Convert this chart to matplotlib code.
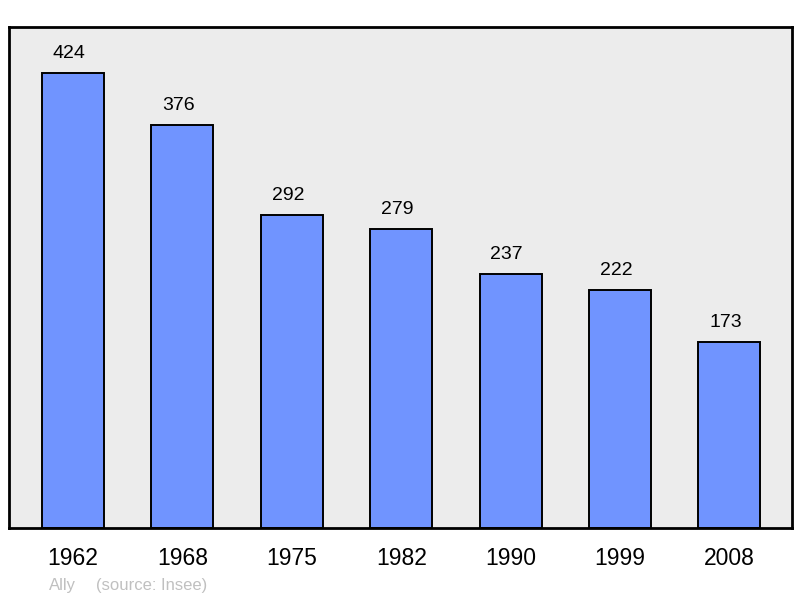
import matplotlib.pyplot as plt

plt.rcParams['font.family'] = ['Liberation Sans', 'DejaVu Sans']

years = ['1962', '1968', '1975', '1982', '1990', '1999', '2008']
population = [424, 376, 292, 279, 237, 222, 173]

fig = plt.figure(figsize=(8, 5.98), dpi=100)
# axes box in pixels: x 9..792, y 27..528
ax = fig.add_axes([9 / 800, 1 - 528 / 598, 783 / 800, 501 / 598])
ax.set_facecolor('#ececec')

x = list(range(len(years)))
ax.bar(x, population, width=0.567, color='#7094ff', edgecolor='black', linewidth=1.4, zorder=2)

for xi, v in zip(x, population):
    ax.annotate(str(v), (xi, v), xytext=(-4, 15), textcoords='offset pixels',
                ha='center', va='baseline', fontsize=14, color='black')

ax.set_xlim(-0.585, 6.572)
ax.set_ylim(0, 466.9)
ax.set_xticks(x)
ax.set_xticklabels(years, fontsize=16.5)
ax.tick_params(axis='x', length=0, pad=14)
ax.set_yticks([])
for s in ax.spines.values():
    s.set_linewidth(2)
    s.set_color('black')

fig.text(49 / 800, 1 - 590 / 598, 'Ally', fontsize=12, color='#c0c0c0', va='baseline', ha='left')
fig.text(96 / 800, 1 - 590 / 598, '(source: Insee)', fontsize=12, color='#c0c0c0', va='baseline', ha='left')

fig.savefig('out.png', dpi=100)
